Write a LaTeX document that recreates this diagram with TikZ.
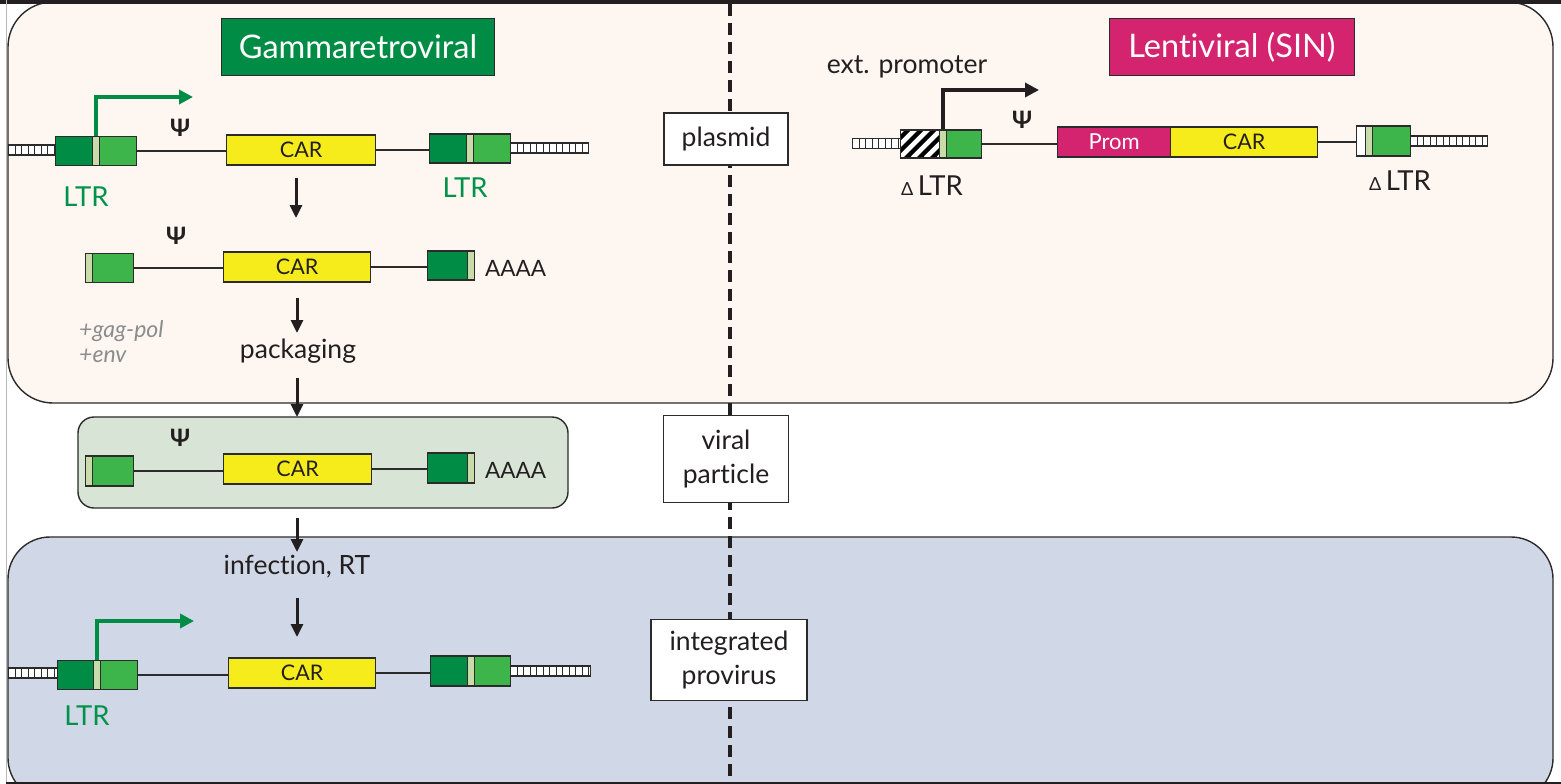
\documentclass[tikz,border=0pt]{standalone}
\usepackage{fontspec}
\setmainfont{Lato}[Ligatures=NoCommon]
\usetikzlibrary{arrows.meta}
\definecolor{dkg}{HTML}{008C44}
\definecolor{lg}{HTML}{3DB54A}
\definecolor{strip}{HTML}{C9DBA9}
\definecolor{carY}{HTML}{F7EC1B}
\definecolor{mag}{HTML}{D42470}
\definecolor{peach}{HTML}{FDF6F1}
\definecolor{vpart}{HTML}{D8E4D6}
\definecolor{prov}{HTML}{D0D7E6}
\definecolor{ink}{HTML}{231F20}
\definecolor{edge}{HTML}{2B2B2B}
\definecolor{gtxt}{HTML}{00924A}
\definecolor{graytxt}{HTML}{8A8C8E}
\definecolor{frameg}{HTML}{B8B8B8}
\tikzset{
  seg/.style={draw=edge, line width=1.3, inner sep=0, anchor=west, minimum height=29},
  dseg/.style={seg, fill=dkg},
  lseg/.style={seg, fill=lg},
  sseg/.style={seg, fill=strip, minimum width=7},
  wseg/.style={seg, fill=white},
  carbox/.style={seg, fill=carY, minimum height=30, font=\fontsize{21.5}{24}\selectfont, text=ink},
  ladder/.style={draw=edge, line width=1.1, fill=white, inner sep=0, anchor=west, minimum height=10,
    path picture={\foreach \t in {1,...,14}{\draw[edge, line width=1.1] ([xshift=\t*6.5]path picture bounding box.south west) -- ([xshift=\t*6.5]path picture bounding box.north west);}}},
  hatch/.style={seg, path picture={\fill[black] (path picture bounding box.south west) rectangle (path picture bounding box.north east);
    \foreach \o in {-40,-27,...,40}{\draw[white, line width=4.5] ([xshift=\o]path picture bounding box.south west) -- ++(45,-45);}}},
  wire/.style={draw=edge, line width=1.3},
  down/.style={draw=ink, line width=3, -{Triangle[length=13pt,width=12pt]}},
  garrow/.style={draw=dkg, line width=3.5, -{Triangle[length=14pt,width=14pt]}},
  karrow/.style={draw=ink, line width=3.5, -{Triangle[length=14pt,width=14pt]}},
  lbl/.style={font=\fontsize{26.5}{34}\selectfont, text=ink, align=center},
  ltrlbl/.style={font=\fontsize{27.5}{30}\selectfont, text=gtxt},
  psi/.style={font=\bfseries\fontsize{24}{26}\selectfont, text=ink},
  aaaa/.style={font=\fontsize{22.5}{24}\selectfont, text=ink, anchor=west, inner sep=0},
  tag/.style={draw=edge, line width=1.3, fill=white, lbl, inner sep=0},
  title/.style={draw=edge, line width=1.2, inner sep=0, minimum height=57, text=white, font=\fontsize{32.5}{36}\selectfont},
}
\begin{document}
\begin{tikzpicture}[x=1pt,y=-1pt]
\useasboundingbox (0,0) rectangle (1561,784);
\fill[white] (0,0) rectangle (1561,784);
% regions
\draw[edge, line width=1.4, fill=peach, rounded corners=45] (8,2) rectangle (1553,403);
\draw[edge, line width=1.4, fill=vpart, rounded corners=16] (78,417) rectangle (568,508);
\draw[edge, line width=1.4, fill=prov, rounded corners=42] (8,537) rectangle (1553,800);
\fill[ink] (0,0) rectangle (1561,4);
\draw[frameg, line width=1] (6.5,0) -- (6.5,784);
\draw[ink, line width=1.6] (6,783) -- (1561,783);
% dashed divider
\coordinate (dtop) at (730,4);
\coordinate (dbot) at (730,784);
\draw[ink, line width=3.5, dash pattern=on 12pt off 7pt] (dtop) -- (dbot);
% titles
\node[title, fill=dkg, minimum width=273] (tgam) at (358,47) {Gammaretroviral};
\node[title, fill=mag, minimum width=245] (tlen) at (1232,47) {Lentiviral (SIN)};
% tags
\node[tag, minimum width=124, minimum height=52] (tplas) at (726,139) {plasmid};
\node[tag, minimum width=125, minimum height=87] (tvir) at (726,459) {viral\\particle};
\node[tag, minimum width=156, minimum height=81] (tint) at (729,660) {integrated\\provirus};

% ===== Row 1: gammaretroviral plasmid
\node[ladder, minimum width=47] (lad1a) at (8,150) {};
\node[dseg, minimum width=37] (d1a) at (55,151) {};
\node[sseg] (s1a) at (92,151) {};
\node[lseg, minimum width=37] (l1a) at (99,151) {};
\node[carbox, minimum width=149] (car1) at (226,150) {CAR};
\node[dseg, minimum width=37] (d1b) at (429,148.5) {};
\node[sseg] (s1b) at (466,148.5) {};
\node[lseg, minimum width=37] (l1b) at (473,148.5) {};
\node[ladder, minimum width=78] (lad1b) at (510,148) {};
\draw[wire] (l1a.east) -- (l1a.east -| car1.west);
\draw[wire] (car1.east) -- (car1.east -| d1b.west);
\coordinate (g1tip) at (193,97);
\draw[garrow] (s1a.north) |- (g1tip);
\node[psi] (psi1) at (180,128) {Ψ};
\node[ltrlbl] (ltr1a) at (86,197) {LTR};
\node[ltrlbl] (ltr1b) at (465,188) {LTR};
\coordinate (a1s) at (296,178);
\coordinate (a1e) at (296,218);
\draw[down] (a1s) -- (a1e);

% ===== Row 2: transcript
\node[sseg] (s2) at (85,268) {};
\node[lseg, minimum width=41] (l2) at (92,268) {};
\node[carbox, minimum width=147] (car2) at (223,267) {CAR};
\node[dseg, minimum width=40] (d2) at (427,265.5) {};
\node[sseg] (s2b) at (467,265.5) {};
\node[aaaa] (aa2) at (485,268) {AAAA};
\draw[wire] (l2.east) -- (l2.east -| car2.west);
\draw[wire] (car2.east) -- (car2.east -| d2.west);
\node[psi] (psi2) at (176,236) {Ψ};
\node[font=\itshape\fontsize{23}{25}\selectfont, text=graytxt, anchor=west, inner sep=0, align=left] (gag) at (79,342) {+gag-pol\\+env};
\coordinate (a2s) at (297,298);
\coordinate (a2e) at (297,333);
\draw[down] (a2s) -- (a2e);
\node[lbl] (pack) at (298,351) {packaging};
\coordinate (a3s) at (297,378);
\coordinate (a3e) at (297,417);
\draw[down] (a3s) -- (a3e);

% ===== Row 3: viral particle
\node[sseg, minimum height=30] (s3) at (85,471) {};
\node[lseg, minimum width=41, minimum height=30] (l3) at (92,471) {};
\node[carbox, minimum width=148] (car3) at (223,469) {CAR};
\node[dseg, minimum width=40, minimum height=30] (d3) at (427,468) {};
\node[sseg, minimum height=30] (s3b) at (467,468) {};
\node[aaaa] (aa3) at (485,470) {AAAA};
\draw[wire] (l3.east) -- (l3.east -| car3.west);
\draw[wire] (car3.east) -- (car3.east -| d3.west);
\node[psi] (psi3) at (180,438) {Ψ};
\coordinate (a4s) at (297,518);
\coordinate (a4e) at (297,552);
\draw[down] (a4s) -- (a4e);
\node[lbl] (infect) at (297,567) {infection, RT};
\coordinate (a5s) at (297,598);
\coordinate (a5e) at (297,637);
\draw[down] (a5s) -- (a5e);

% ===== Row 4: integrated provirus
\node[ladder, minimum width=49] (lad4a) at (8,673) {};
\node[dseg, minimum width=36] (d4a) at (57,675) {};
\node[sseg] (s4a) at (93,675) {};
\node[lseg, minimum width=37] (l4a) at (100,675) {};
\node[carbox, minimum width=147] (car4) at (228,673) {CAR};
\node[dseg, minimum width=37, minimum height=30] (d4b) at (430,671) {};
\node[sseg, minimum height=30] (s4b) at (467,671) {};
\node[lseg, minimum width=36, minimum height=30] (l4b) at (474,671) {};
\node[ladder, minimum width=80] (lad4b) at (510,671) {};
\draw[wire] (l4a.east) -- (l4a.east -| car4.west);
\draw[wire] (car4.east) -- (car4.east -| d4b.west);
\coordinate (g4tip) at (194,621);
\draw[garrow] (s4a.north) |- (g4tip);
\node[ltrlbl] (ltr4) at (87,716) {LTR};

% ===== Lentiviral plasmid
\node[ladder, minimum width=48] (ladL1) at (852,143.5) {};
\node[hatch, minimum width=39, minimum height=28] (hL) at (900,144) {};
\node[sseg, minimum height=28] (sL1) at (939,144) {};
\node[lseg, minimum width=35, minimum height=28] (lL1) at (946,144) {};
\node[seg, fill=mag, minimum width=113, minimum height=30, text=white, font=\fontsize{22}{24}\selectfont] (prom) at (1057,142) {Prom};
\node[carbox, minimum width=147] (carL) at (1170,142) {CAR};
\node[wseg, minimum width=9, minimum height=30] (wL2) at (1356,141) {};
\node[sseg, minimum height=30] (sL2) at (1365,141) {};
\node[lseg, minimum width=38, minimum height=30] (lL2) at (1372,141) {};
\node[ladder, minimum width=77] (ladL2) at (1410,141) {};
\draw[wire] (lL1.east) -- (lL1.east -| prom.west);
\draw[wire] (carL.east) -- (carL.east -| wL2.west);
\coordinate (kLtip) at (1039,90);
\draw[karrow] (sL1.north) |- (kLtip);
\node[lbl] (ext) at (907,67) {ext. promoter};
\node[psi] (psiL) at (1022,120) {Ψ};
\node[lbl, font=\fontsize{27.5}{30}\selectfont] (dltr1) at (932,186) {{\fontsize{18}{20}\selectfont Δ}\,LTR};
\node[lbl, font=\fontsize{27.5}{30}\selectfont] (dltr2) at (1400,181) {{\fontsize{18}{20}\selectfont Δ}\,LTR};
\end{tikzpicture}
\end{document}
